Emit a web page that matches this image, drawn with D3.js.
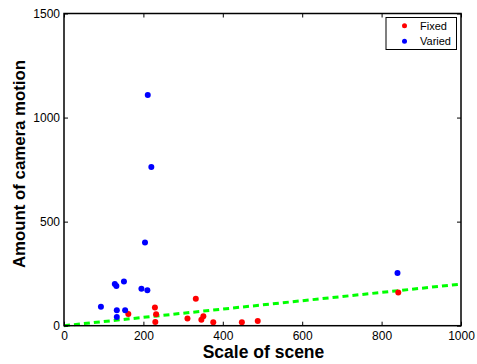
<!DOCTYPE html>
<html>
<head>
<meta charset="utf-8">
<script src="https://cdn.jsdelivr.net/npm/d3@7"></script>
<style>
  body { margin: 0; background: #fff; }
  text { font-family: "Liberation Sans", Arial, sans-serif; }
</style>
</head>
<body>
<svg id="chart" width="477" height="364"></svg>
<script>
// ----------------- DATA ----------------- //
var fixedX = [162, 229, 232, 230, 332, 311, 351, 346, 376, 448, 488, 842];
var fixedY = [56, 88, 55, 18, 130, 34, 45, 29, 16, 16, 23, 159];
var variedX = [211, 220, 204, 128, 132, 151, 195, 210, 93, 133, 154, 133, 840];
var variedY = [1108, 762, 400, 200, 191, 212, 178, 170, 91, 74, 74, 42, 253];
var fitX = [0, 1000];
var fitY = [0, 200];
var xTicks = [0, 200, 400, 600, 800, 1000];
var yTicks = [0, 500, 1000, 1500];

// ----------------- LAYOUT ----------------- //
var plotLeft = 64, plotRight = 461, plotTop = 13.5, plotBottom = 325.7;
var svg = d3.select('#chart');

var x = d3.scaleLinear().domain([0, 1000]).range([plotLeft, plotRight]);
var y = d3.scaleLinear().domain([0, 1500]).range([plotBottom, plotTop]);

// fit line
var line = d3.line().x(d => x(d[0])).y(d => y(d[1]));
svg.append('path')
    .datum(d3.zip(fitX, fitY))
    .attr('d', line)
    .attr('fill', 'none')
    .attr('stroke', '#00ff00')
    .attr('stroke-width', 3)
    .attr('stroke-dasharray', '6,4');

// points
function drawPoints(xs, ys, color) {
    svg.append('g')
        .selectAll('circle')
        .data(d3.zip(xs, ys))
        .join('circle')
        .attr('cx', d => x(d[0]))
        .attr('cy', d => y(d[1]))
        .attr('r', 3)
        .attr('fill', color);
}
drawPoints(fixedX, fixedY, '#ff0000');
drawPoints(variedX, variedY, '#0000ff');

// ----------------- AXES ----------------- //
var tickLen = 4;
svg.append('g')
    .attr('transform', 'translate(0,' + plotBottom + ')')
    .call(d3.axisBottom(x).tickValues(xTicks).tickSize(-tickLen).tickPadding(6).tickFormat(d3.format('d')))
    .call(g => g.select('.domain').remove());
svg.append('g')
    .attr('transform', 'translate(0,' + plotTop + ')')
    .call(d3.axisTop(x).tickValues(xTicks).tickSize(-tickLen).tickFormat(''))
    .call(g => g.select('.domain').remove());
svg.append('g')
    .attr('transform', 'translate(' + plotLeft + ',0)')
    .call(d3.axisLeft(y).tickValues(yTicks).tickSize(-tickLen).tickPadding(4).tickFormat(d3.format('d')))
    .call(g => g.select('.domain').remove());
svg.append('g')
    .attr('transform', 'translate(' + plotRight + ',0)')
    .call(d3.axisRight(y).tickValues(yTicks).tickSize(-tickLen).tickFormat(''))
    .call(g => g.select('.domain').remove());

svg.selectAll('.tick text')
    .attr('font-size', 12)
    .attr('font-family', '"Liberation Sans", Arial, sans-serif')
    .attr('fill', '#000');
svg.selectAll('.tick line').attr('stroke', '#000');

svg.append('rect')
    .attr('x', plotLeft).attr('y', plotTop)
    .attr('width', plotRight - plotLeft).attr('height', plotBottom - plotTop)
    .attr('fill', 'none').attr('stroke', '#000').attr('stroke-width', 1.5);

// titles
svg.append('text')
    .attr('x', 263.5).attr('y', 358)
    .attr('text-anchor', 'middle')
    .attr('font-size', 17.5).attr('font-weight', 'bold')
    .text('Scale of scene');
svg.append('text')
    .attr('transform', 'translate(25,164) rotate(-90)')
    .attr('text-anchor', 'middle')
    .attr('font-size', 16).attr('font-weight', 'bold')
    .attr('textLength', 208).attr('lengthAdjust', 'spacingAndGlyphs')
    .text('Amount of camera motion');

// ----------------- LEGEND ----------------- //
var legendNames = ['Fixed', 'Varied'];
var legendColors = ['#ff0000', '#0000ff'];
var lg = svg.append('g');
lg.append('rect')
    .attr('x', 386).attr('y', 17.5)
    .attr('width', 70.5).attr('height', 32)
    .attr('fill', '#fff').attr('stroke', '#000').attr('stroke-width', 1);
legendNames.forEach(function (name, i) {
    lg.append('circle')
        .attr('cx', 404.5).attr('cy', 25.7 + i * 15.6)
        .attr('r', 2.5).attr('fill', legendColors[i]);
    lg.append('text')
        .attr('x', 420).attr('y', 25.7 + i * 15.6 + 4)
        .attr('font-size', 11)
        .text(name);
});
</script>
</body>
</html>
